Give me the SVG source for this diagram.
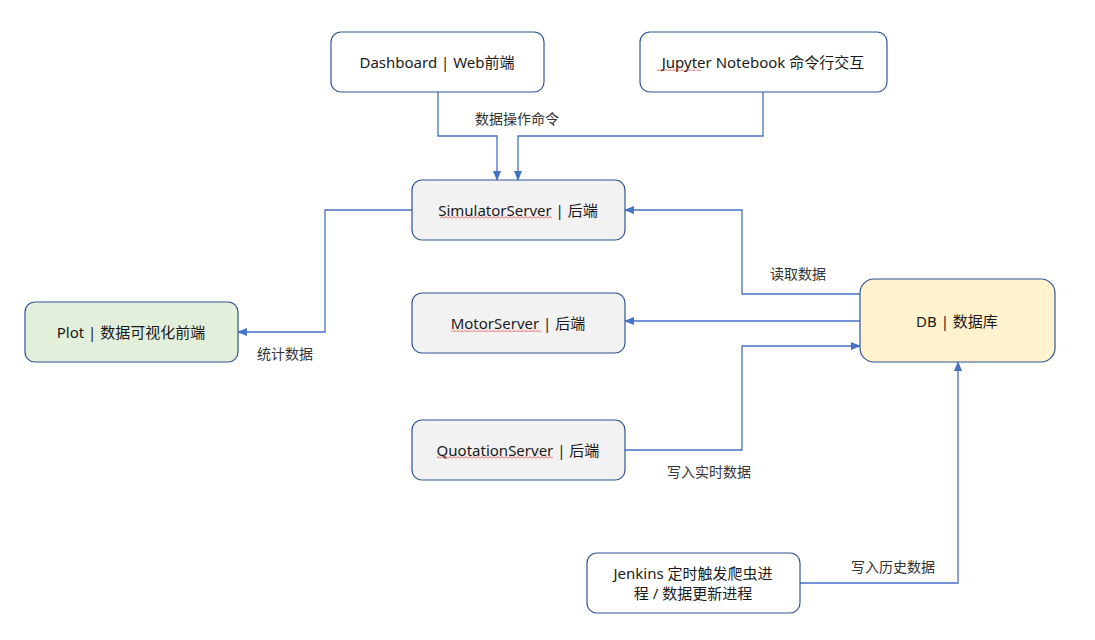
<svg xmlns="http://www.w3.org/2000/svg" width="1095" height="640" viewBox="0 0 1095 640">
<defs>
<marker id="arr" markerWidth="10" markerHeight="10" refX="9" refY="5" orient="auto" markerUnits="userSpaceOnUse">
<path d="M0,1 L10,5 L0,9 Z" fill="#4472c4"/>
</marker>
<pattern id="sq" width="4" height="3" patternUnits="userSpaceOnUse">
<polyline points="0,2.5 2,0.5 4,2.5" fill="none" stroke="#e03030" stroke-width="0.8"/>
</pattern>
</defs>
<style>
.n{stroke:#2f5597;stroke-width:1.2}
.w{fill:#ffffff}
.g{fill:#f2f2f2}
.t{font-family:"Noto Sans","Noto Sans CJK SC",sans-serif;font-size:15px;fill:#1a1a1a;text-anchor:middle;dominant-baseline:central}
.l{font-family:"Noto Sans CJK SC",sans-serif;font-size:14px;fill:#333333;text-anchor:middle;dominant-baseline:central}
.c{fill:none;stroke:#4472c4;stroke-width:1.3;marker-end:url(#arr)}
</style>
<rect width="1095" height="640" fill="#ffffff"/>
<g id="connectors">
<path class="c" d="M438,92 V136 H497 V180"/>
<path class="c" d="M763,92 V136 H518 V180"/>
<path class="c" d="M412,210 H325 V332 H238"/>
<path class="c" d="M860,294 H742 V210 H625"/>
<path class="c" d="M860,321 H625"/>
<path class="c" d="M625,450 H742 V346 H860"/>
<path class="c" d="M800,583 H958 V362"/>
<text class="l" x="517" y="118">数据操作命令</text>
<text class="l" x="285" y="353">统计数据</text>
<text class="l" x="798" y="273">读取数据</text>
<text class="l" x="709" y="471">写入实时数据</text>
<text class="l" x="893" y="566">写入历史数据</text>
</g>
<g id="dashboard">
<rect class="n w" x="331" y="32" width="213" height="60" rx="10"/>
<text class="t" x="437" y="62">Dashboard | Web前端</text>
</g>
<g id="jupyter">
<rect class="n w" x="640" y="32" width="247" height="60" rx="10"/>
<text class="t" x="763" y="62">Jupyter Notebook 命令行交互</text>
<rect x="657" y="68" width="44" height="3" fill="url(#sq)"/>
</g>
<g id="simulator">
<rect class="n g" x="412" y="180" width="213" height="60" rx="10"/>
<text class="t" x="518" y="210">SimulatorServer | 后端</text>
<rect x="440" y="216" width="112" height="3" fill="url(#sq)"/>
</g>
<g id="motor">
<rect class="n g" x="412" y="293" width="213" height="60" rx="10"/>
<text class="t" x="518" y="323">MotorServer | 后端</text>
<rect x="451" y="329" width="90" height="3" fill="url(#sq)"/>
</g>
<g id="quotation">
<rect class="n g" x="412" y="420" width="213" height="60" rx="10"/>
<text class="t" x="518" y="450">QuotationServer | 后端</text>
<rect x="437" y="456" width="116" height="3" fill="url(#sq)"/>
</g>
<g id="plot">
<rect class="n" x="25" y="302" width="213" height="60" rx="10" fill="#e2efda"/>
<text class="t" x="131" y="332">Plot | 数据可视化前端</text>
</g>
<g id="db">
<rect class="n" x="860" y="279" width="195" height="83" rx="14" fill="#fff2cc"/>
<text class="t" x="957" y="321">DB | 数据库</text>
</g>
<g id="jenkins">
<rect class="n w" x="587" y="553" width="213" height="60" rx="10"/>
<text class="t" x="693" y="573">Jenkins 定时触发爬虫进</text>
<text class="t" x="693" y="593">程 / 数据更新进程</text>
</g>
</svg>
